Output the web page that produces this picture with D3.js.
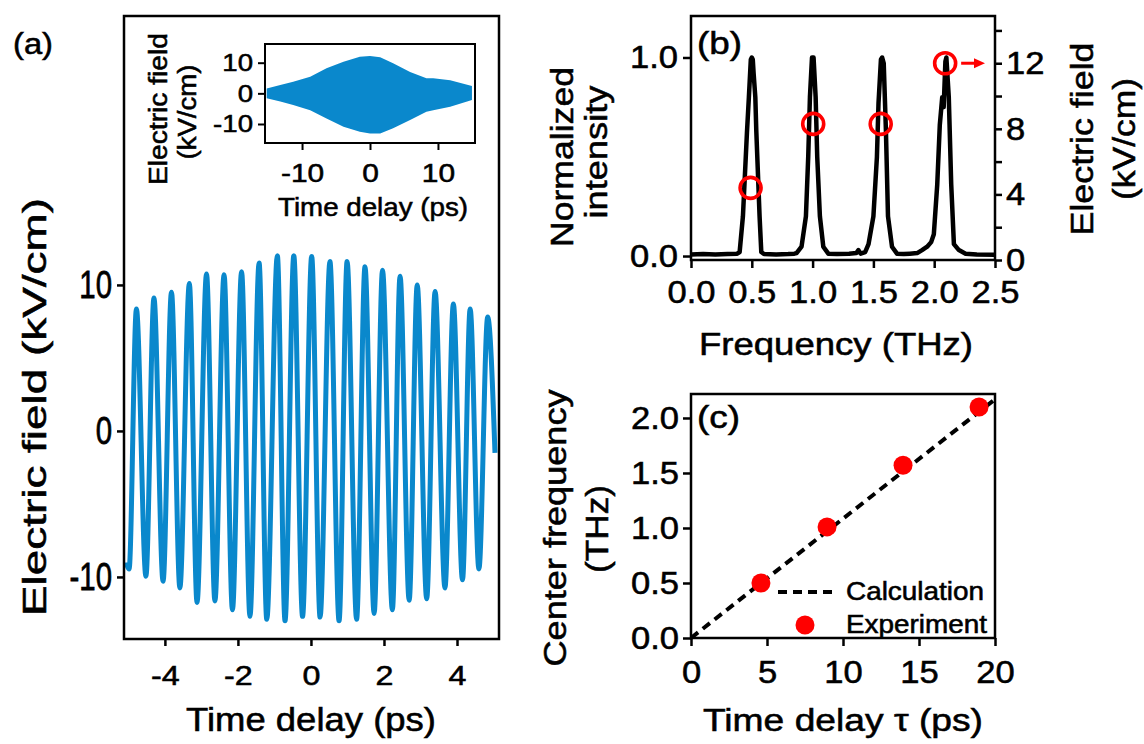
<!DOCTYPE html>
<html>
<head>
<meta charset="utf-8">
<script src="https://cdn.jsdelivr.net/npm/d3@7"></script>
<style>
  body { margin: 0; background: #fff; }
  svg { display: block; font-family: "Liberation Sans", Arial, sans-serif; }
  svg text { stroke: #000; stroke-width: 0.55px; }
</style>
</head>
<body>
<svg id="fig" width="1144" height="744"></svg>
<script>
// (a) main trace: extrema (ps, kV/cm)
const peakT = [-4.78, -4.30, -3.82, -3.33, -2.86, -2.38, -1.90, -1.42, -0.92, -0.47, 0.02, 0.52, 0.99, 1.48, 1.96, 2.44, 2.91, 3.40, 3.90, 4.36, 4.84];
const peakV = [8.35, 9.1, 9.5, 10.1, 10.75, 10.7, 10.9, 11.5, 12.0, 12.0, 11.95, 11.6, 11.6, 11.25, 11.0, 10.6, 10.0, 9.55, 8.7, 8.35, 7.8];
const troughT = [-4.98, -4.52, -4.05, -3.59, -3.12, -2.63, -2.15, -1.67, -1.21, -0.71, -0.23, 0.25, 0.77, 1.25, 1.73, 2.23, 2.69, 3.17, 3.67, 4.15, 4.60];
const troughV = [-9.45, -9.95, -10.3, -10.75, -11.75, -11.65, -12.25, -12.7, -12.9, -13.0, -12.7, -12.75, -13.0, -12.9, -12.5, -12.25, -11.6, -11.5, -10.75, -10.2, -9.45];
const traceStart = [-5.06, -9.0];
const traceEnd = [5.04, -1.5];

// (a) inset: envelope of the long trace
const insetT = [-15.2, -13.2, -11.3, -8.8, -6.4, -3.9, -1.5, 0, 1.5, 3.4, 5.9, 8.3, 9.3, 11.8, 15.0];
const insetTop = [1.6, 2.7, 3.8, 5.4, 8.2, 10.3, 11.9, 12.2, 11.8, 9.8, 7.0, 4.9, 4.9, 4.3, 2.4];
const insetBot = [-1.6, -2.7, -3.8, -5.5, -8.2, -10.9, -12.5, -13.1, -13.1, -11.4, -8.7, -6.0, -5.5, -4.4, -2.2];

// (b) spectrum (THz, normalized)
const specF = [0, 0.10, 0.20, 0.30, 0.38, 0.40, 0.427, 0.46, 0.476, 0.492, 0.50, 0.508, 0.515, 0.529, 0.537, 0.564, 0.578, 0.60,
  0.70, 0.80, 0.85, 0.868, 0.909, 0.945, 0.964, 0.978, 0.995, 1.008, 1.025, 1.038, 1.06, 1.088, 1.129,
  1.20, 1.30, 1.36, 1.377, 1.395, 1.432, 1.46, 1.50, 1.529, 1.542, 1.562, 1.572, 1.585, 1.603, 1.62, 1.653, 1.694,
  1.75, 1.80, 1.86, 1.90, 1.942, 1.975, 1.997, 2.025, 2.046, 2.066, 2.078, 2.092, 2.10, 2.12, 2.14, 2.162, 2.203, 2.258, 2.35, 2.5];
const specI = [0.008, 0.01, 0.008, 0.01, 0.012, 0.02, 0.20, 0.62, 0.80, 0.99, 1.0, 0.99, 0.92, 0.80, 0.63, 0.20, 0.02, 0.01,
  0.008, 0.01, 0.012, 0.015, 0.047, 0.20, 0.50, 0.80, 1.0, 1.0, 0.80, 0.50, 0.20, 0.047, 0.012,
  0.01, 0.012, 0.015, 0.03, 0.012, 0.02, 0.06, 0.20, 0.50, 0.77, 0.99, 1.0, 0.97, 0.63, 0.20, 0.047, 0.012,
  0.01, 0.012, 0.015, 0.03, 0.047, 0.07, 0.11, 0.36, 0.66, 0.80, 0.75, 0.98, 1.0, 0.80, 0.36, 0.06, 0.03, 0.012, 0.008, 0.006];
// (b) field amplitude of each line (right axis, kV/cm)
const fieldF = [0.49, 1.005, 1.56, 2.09];
const fieldE = [4.4, 8.3, 8.3, 12.0];

// (c) centre frequency vs delay
const expTau = [4.6, 8.95, 13.95, 18.95];
const expFreq = [0.50, 1.01, 1.57, 2.10];
const calcTau = [0, 20];
const calcFreq = [0, 2.17];

const svg = d3.select('#fig');
const blue = '#0a88cc';
const red = '#ff0000';
const plain = d => String(d);   // hyphen minus like the original

function stretch(sel, k) {
  sel.each(function () {
    const w = this.getComputedTextLength();
    d3.select(this).attr('textLength', w * k).attr('lengthAdjust', 'spacingAndGlyphs');
  });
}

function label(x, y, text, size, len, rot, anchor) {
  const t = svg.append('text')
    .attr('transform', `translate(${x},${y})` + (rot ? ' rotate(-90)' : ''))
    .attr('text-anchor', anchor || 'middle')
    .attr('font-size', size)
    .text(text);
  if (len) t.attr('textLength', len).attr('lengthAdjust', 'spacingAndGlyphs');
  return t;
}

function frame(box, sw) {
  svg.append('rect')
    .attr('x', box.left).attr('y', box.top)
    .attr('width', box.right - box.left).attr('height', box.bottom - box.top)
    .attr('fill', 'none').attr('stroke', '#000').attr('stroke-width', sw);
}

function styleAxis(g, size, sw, k) {
  g.attr('font-size', size).attr('font-family', null);
  g.select('.domain').remove();
  g.selectAll('.tick line').attr('stroke-width', sw);
  stretch(g.selectAll('.tick text'), k);
  return g;
}

// ---------- (a) ----------
const A = { left: 124, top: 16, right: 499, bottom: 639 };
const xA = d3.scaleLinear().domain([-5.12, 5.15]).range([A.left, A.right]);
const yA = d3.scaleLinear().domain([-14.25, 28.42]).range([A.bottom, A.top]);

const trace = [traceStart]
  .concat(peakT.map((t, i) => [t, peakV[i]]), troughT.map((t, i) => [t, troughV[i]]), [traceEnd])
  .sort((a, b) => a[0] - b[0]);

svg.append('path')
  .datum(trace)
  .attr('fill', 'none')
  .attr('stroke', blue)
  .attr('stroke-width', 5)
  .attr('stroke-linejoin', 'round')
  .attr('d', d3.line().x(d => xA(d[0])).y(d => yA(d[1])).curve(d3.curveMonotoneX));

frame(A, 2.5);

styleAxis(svg.append('g')
  .attr('transform', `translate(0,${A.bottom})`)
  .call(d3.axisBottom(xA).tickValues([-4, -2, 0, 2, 4]).tickFormat(plain).tickSize(7).tickPadding(19)), 28, 2.5, 1.15);

const ayA = styleAxis(svg.append('g')
  .attr('transform', `translate(${A.left},0)`)
  .call(d3.axisLeft(yA).tickValues([-10, 0, 10]).tickFormat(plain).tickSize(7).tickPadding(5)), 28, 2.5, 1.05);
ayA.selectAll('.tick text').attr('transform', 'scale(1,1.38)');

label(311, 731, 'Time delay (ps)', 33, 250);
label(46, 407, 'Electric field (kV/cm)', 33, 418, true);
label(13, 54, '(a)', 30, 40, false, 'start');

// inset
const I = { left: 265, top: 44, right: 475, bottom: 143 };
const xI = d3.scaleLinear().domain([-15.45, 15.45]).range([I.left, I.right]);
const yI = d3.scaleLinear().domain([-16.2, 16.1]).range([I.bottom, I.top]);

svg.append('path')
  .datum(insetT)
  .attr('fill', blue)
  .attr('d', d3.area().x(t => xI(t)).y0((t, i) => yI(insetBot[i])).y1((t, i) => yI(insetTop[i])));

frame(I, 2);

styleAxis(svg.append('g')
  .attr('transform', `translate(0,${I.bottom})`)
  .call(d3.axisBottom(xI).tickValues([-10, 0, 10]).tickFormat(plain).tickSize(7).tickPadding(14)), 26, 2, 1.15);

styleAxis(svg.append('g')
  .attr('transform', `translate(${I.left},0)`)
  .call(d3.axisLeft(yI).tickValues([-10, 0, 10]).tickFormat(plain).tickSize(7).tickPadding(5)), 24, 2, 1.15);

label(373, 216, 'Time delay (ps)', 26, 190);
label(167, 109, 'Electric field', 26, 152, true);
label(196, 112, '(kV/cm)', 26, 95, true);

// ---------- (b) ----------
const B = { left: 691, top: 16, right: 995, bottom: 260 };
const xB = d3.scaleLinear().domain([0, 2.5]).range([B.left, B.right]);
const yB = d3.scaleLinear().domain([-0.02, 1.209]).range([B.bottom, B.top]);
const yB2 = d3.scaleLinear().domain([0, 14.88]).range([B.bottom, B.top]);

svg.append('path')
  .datum(specF.map((f, i) => [f, specI[i]]))
  .attr('fill', 'none')
  .attr('stroke', '#000')
  .attr('stroke-width', 4.5)
  .attr('stroke-linejoin', 'round')
  .attr('d', d3.line().x(d => xB(d[0])).y(d => yB(d[1])));

frame(B, 2.5);

styleAxis(svg.append('g')
  .attr('transform', `translate(0,${B.bottom})`)
  .call(d3.axisBottom(xB).tickValues([0, 0.5, 1, 1.5, 2, 2.5]).tickFormat(d3.format('.1f')).tickSize(8).tickPadding(12)), 32, 2.5, 1.08);

styleAxis(svg.append('g')
  .attr('transform', `translate(${B.left},0)`)
  .call(d3.axisLeft(yB).tickValues([0, 1]).tickFormat(d3.format('.1f')).tickSize(8).tickPadding(5)), 32, 2.5, 1.08);

styleAxis(svg.append('g')
  .attr('transform', `translate(${B.right},0)`)
  .call(d3.axisRight(yB2).tickValues([0, 2, 4, 6, 8, 10, 12, 14]).tickFormat(d => d % 4 === 0 ? d : '').tickSize(7).tickPadding(4)), 32, 2.5, 1.08);

svg.append('g').selectAll('circle')
  .data(fieldF)
  .join('circle')
  .attr('cx', d => xB(d))
  .attr('cy', (d, i) => yB2(fieldE[i]))
  .attr('r', 10.5)
  .attr('fill', 'none')
  .attr('stroke', red)
  .attr('stroke-width', 3.6);

// arrow pointing to the right axis
const ax0 = xB(fieldF[3]) + 16, ax1 = B.right - 10, ay = yB2(fieldE[3]);
svg.append('line')
  .attr('x1', ax0).attr('x2', ax1 - 8).attr('y1', ay).attr('y2', ay)
  .attr('stroke', red).attr('stroke-width', 3);
svg.append('path')
  .attr('d', `M${ax1},${ay} l-11,-5 l0,10 z`)
  .attr('fill', red);

label(836, 355, 'Frequency (THz)', 32, 274);
label(573, 157, 'Normalized', 32, 180, true);
label(607, 152, 'intensity', 32, 133, true);
label(1093, 139, 'Electric field', 32, 193, true);
label(1135, 139, '(kV/cm)', 32, 122, true);
label(697, 54, '(b)', 32, 45, false, 'start');

// ---------- (c) ----------
const C = { left: 691, top: 394, right: 995, bottom: 638 };
const xC = d3.scaleLinear().domain([0, 20]).range([C.left, C.right]);
const yC = d3.scaleLinear().domain([0, 2.218]).range([C.bottom, C.top]);

svg.append('path')
  .datum(calcTau.map((t, i) => [t, calcFreq[i]]))
  .attr('fill', 'none')
  .attr('stroke', '#000')
  .attr('stroke-width', 4)
  .attr('stroke-dasharray', '9,6')
  .attr('d', d3.line().x(d => xC(d[0])).y(d => yC(d[1])));

svg.append('g').selectAll('circle')
  .data(expTau)
  .join('circle')
  .attr('cx', d => xC(d))
  .attr('cy', (d, i) => yC(expFreq[i]))
  .attr('r', 9.5)
  .attr('fill', red);

frame(C, 2.5);

styleAxis(svg.append('g')
  .attr('transform', `translate(0,${C.bottom})`)
  .call(d3.axisBottom(xC).tickValues([0, 5, 10, 15, 20]).tickSize(8).tickPadding(14)), 32, 2.5, 1.08);

styleAxis(svg.append('g')
  .attr('transform', `translate(${C.left},0)`)
  .call(d3.axisLeft(yC).tickValues([0, 0.5, 1, 1.5, 2]).tickFormat(d3.format('.1f')).tickSize(8).tickPadding(4)), 32, 2.5, 1.08);

// legend
svg.append('line')
  .attr('x1', 778).attr('x2', 833).attr('y1', 592).attr('y2', 592)
  .attr('stroke', '#000').attr('stroke-width', 4).attr('stroke-dasharray', '9,6');
label(846, 600, 'Calculation', 25, 138, false, 'start');
svg.append('circle').attr('cx', 805).attr('cy', 625).attr('r', 9.5).attr('fill', red);
label(846, 633, 'Experiment', 25, 141, false, 'start');

label(843, 731, 'Time delay τ (ps)', 32, 280);
label(566, 528, 'Center frequency', 32, 277, true);
label(608, 529, '(THz)', 32, 88, true);
label(697, 428, '(c)', 32, 43, false, 'start');
</script>
</body>
</html>
